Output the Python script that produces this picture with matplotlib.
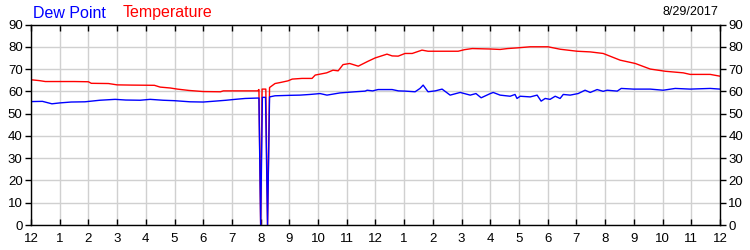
import matplotlib
matplotlib.use("Agg")
import matplotlib.pyplot as plt

plt.rcParams['font.family'] = ['Liberation Sans', 'DejaVu Sans']

temp_hours = [0.0, 0.3, 0.5, 1.0, 1.5, 2.0, 2.1, 2.7, 3.0, 3.5, 4.3, 4.5, 4.85, 5.1, 5.5,
              6.0, 6.6, 6.7, 7.4, 7.9, 7.94, 8.0, 8.05, 8.18, 8.24, 8.31, 8.5, 8.7, 8.95,
              9.1, 9.44, 9.79, 9.9, 10.3, 10.52, 10.7, 10.87, 11.1, 11.4, 11.74, 11.99,
              12.4, 12.58, 12.79, 13.03, 13.28, 13.62, 13.83, 14.32, 14.88, 15.1, 15.37,
              16.0, 16.34, 16.6, 16.93, 17.39, 18.01, 18.43, 19.02, 19.48, 19.93, 20.52,
              21.05, 21.57, 22.1, 22.72, 22.96, 23.66, 24.0]
temp_vals = [65.2, 64.8, 64.4, 64.4, 64.4, 64.3, 63.6, 63.5, 62.9, 62.8, 62.7, 61.9, 61.5,
             61.0, 60.4, 59.9, 59.8, 60.2, 60.2, 60.2, 60.8, 0, 61.0, 61.0, 0, 61.7, 63.5,
             64.0, 64.7, 65.5, 65.8, 65.8, 67.3, 68.3, 69.5, 69.2, 72.0, 72.5, 71.3, 73.5,
             75.0, 76.7, 75.9, 75.8, 77.0, 77.0, 78.5, 78.0, 78.0, 78.0, 78.7, 79.2, 79.0,
             78.8, 79.2, 79.5, 80.0, 80.0, 78.9, 78.0, 77.7, 77.0, 74.0, 72.5, 70.0, 69.0,
             68.3, 67.6, 67.6, 66.8]

dew_hours = [0.0, 0.4, 0.73, 1.0, 1.4, 1.88, 2.4, 2.93, 3.3, 3.8, 4.15, 4.6, 5.0, 5.54,
             6.0, 6.41, 6.8, 7.11, 7.46, 7.94, 8.0, 8.06, 8.17, 8.24, 8.31, 8.5, 9.0, 9.37,
             9.72, 10.07, 10.31, 10.77, 11.29, 11.64, 11.71, 11.9, 12.09, 12.58, 12.8,
             13.03, 13.38, 13.55, 13.66, 13.83, 14.08, 14.32, 14.6, 14.95, 15.3, 15.5,
             15.68, 16.0, 16.1, 16.34, 16.69, 16.86, 16.93, 17.04, 17.39, 17.63, 17.77,
             17.91, 18.08, 18.26, 18.43, 18.54, 18.78, 19.06, 19.3, 19.48, 19.72, 19.93,
             20.07, 20.42, 20.56, 20.98, 21.57, 22.02, 22.44, 22.96, 23.66, 24.0]
dew_vals = [55.4, 55.5, 54.4, 54.8, 55.2, 55.3, 56.0, 56.4, 56.1, 56.0, 56.4, 56.0, 55.8,
            55.3, 55.2, 55.6, 56.0, 56.4, 56.8, 57.0, 0, 57.3, 57.3, 0, 57.5, 58.0, 58.2,
            58.3, 58.6, 59.0, 58.3, 59.3, 59.8, 60.1, 60.5, 60.2, 60.8, 60.8, 60.2, 60.1,
            59.8, 61.3, 62.8, 59.8, 60.2, 61.0, 58.3, 59.5, 58.3, 59.0, 57.1, 59.0, 59.5,
            58.3, 57.8, 58.6, 56.8, 57.8, 57.5, 58.3, 55.6, 56.8, 56.4, 57.8, 56.8, 58.6,
            58.3, 59.0, 60.5, 59.5, 60.8, 60.0, 60.5, 60.1, 61.3, 61.0, 61.0, 60.5, 61.3,
            61.0, 61.3, 61.0]

x_ticks = list(range(25))
x_labels = ['12', '1', '2', '3', '4', '5', '6', '7', '8', '9', '10', '11',
            '12', '1', '2', '3', '4', '5', '6', '7', '8', '9', '10', '11', '12']
y_ticks = [0, 10, 20, 30, 40, 50, 60, 70, 80, 90]

fig = plt.figure(figsize=(7.5, 2.5), dpi=100)
ax = fig.add_axes([0.0413, 0.1, 0.9187, 0.802])

ax.plot(temp_hours, temp_vals, color='#ff0000', lw=1.0)
ax.plot(dew_hours, dew_vals, color='#0000ff', lw=1.0)

ax.set_xlim(0, 24)
ax.set_ylim(0, 90)
ax.set_xticks(x_ticks)
ax.set_xticklabels(x_labels)
ax.set_yticks(y_ticks)
ax.grid(True, color='#d0d0d0', lw=1.0)
ax.set_axisbelow(True)

ax.tick_params(axis='x', direction='in', top=True, bottom=True, length=4,
               width=1, labelsize=9.5, pad=6, colors='black')
ax.tick_params(axis='y', direction='out', left=True, right=True, labelleft=True,
               labelright=True, length=4, width=1, labelsize=9.5, pad=2)
for s in ax.spines.values():
    s.set_color('black')
    s.set_linewidth(1.0)

fig.text(33 / 750, 1 - 13 / 250, 'Dew Point', color='#0000ff', fontsize=11.5,
         va='center', ha='left')
fig.text(123 / 750, 1 - 13 / 250, 'Temperature', color='#ff0000', fontsize=11.5,
         va='center', ha='left')
fig.text(718 / 750, 1 - 12 / 250, '8/29/2017', color='black', fontsize=9,
         va='center', ha='right')

fig.savefig('out.png', dpi=100)
